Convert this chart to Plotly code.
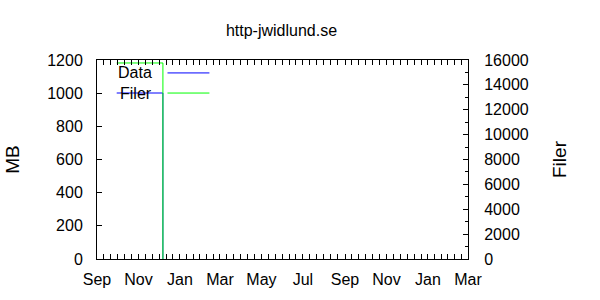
import plotly.graph_objects as go
import pandas as pd

dates = ["2008-09-30", "2008-10-31", "2008-11-30", "2008-12-07", "2008-12-07"]
data_mb = [1001, 1001, 1001, 1001, 0]
filer = [15760, 15760, 15760, 15760, 0]

x_range = ["2008-09-01", "2010-03-01"]
title = "http-jwidlund.se"
font = dict(family="Liberation Sans, Arial, sans-serif", size=16, color="black")

# minor ticks: 6 subdivisions per 2-month major interval (gnuplot style)
majors = pd.date_range("2008-09-01", "2010-03-01", freq="2MS")
minor_vals = []
for a, b in zip(majors[:-1], majors[1:]):
    step = (b - a) / 6
    for k in range(1, 6):
        minor_vals.append((a + step * k).strftime("%Y-%m-%d %H:%M:%S"))

fig = go.Figure()
fig.add_trace(go.Scatter(x=dates, y=data_mb, mode="lines", name="Data",
                         line=dict(color="#0000ff", width=1), yaxis="y", showlegend=False))
fig.add_trace(go.Scatter(x=dates, y=filer, mode="lines", name="Filer",
                         line=dict(color="#00ff00", width=1), yaxis="y2", showlegend=False))

# gnuplot-style key: text left, sample line right
for name, color, yp in [("Data", "#0000ff", 0.935), ("Filer", "#00ff00", 0.834)]:
    fig.add_annotation(text=name, xref="paper", yref="paper", x=0.153, y=yp,
                       xanchor="right", yanchor="middle", showarrow=False, font=dict(size=16))
    fig.add_shape(type="line", xref="paper", yref="paper", x0=0.190, x1=0.303, y0=yp, y1=yp,
                  line=dict(color=color, width=1))

fig.update_layout(
    width=600, height=300,
    margin=dict(l=95, r=132, t=60, b=41),
    paper_bgcolor="white", plot_bgcolor="white",
    font=font,
    title=dict(text=title, x=(95 + 468) / 2 / 600, xanchor="center", y=1 - 30 / 300, yanchor="middle",
               font=dict(size=16)),
    xaxis=dict(type="date", range=x_range, tick0="2008-09-01", dtick="M2", tickformat="%b",
               ticks="inside", ticklen=5, showline=True, linecolor="black", mirror="allticks",
               showgrid=False, zeroline=False, tickcolor="black", ticklabelstandoff=6,
               minor=dict(ticks="inside", ticklen=3, tickmode="array", tickvals=minor_vals,
                          tickcolor="black", showgrid=False)),
    yaxis=dict(range=[0, 1200], dtick=200, ticks="inside", ticklen=5, showline=True,
               linecolor="black", showgrid=False, zeroline=False, tickcolor="black",
               ticklabelstandoff=10,
               title=dict(text="MB", standoff=22)),
    yaxis2=dict(range=[0, 16000], dtick=2000, overlaying="y", side="right", ticks="inside",
                ticklen=5, showline=True, linecolor="black", showgrid=False, zeroline=False,
                tickcolor="black", tickformat="d", ticklabelstandoff=12,
                minor=dict(ticks="inside", ticklen=3, dtick=1000, tickcolor="black", showgrid=False),
                title=dict(text="Filer", standoff=24)),
)

fig.write_html("out.html")
